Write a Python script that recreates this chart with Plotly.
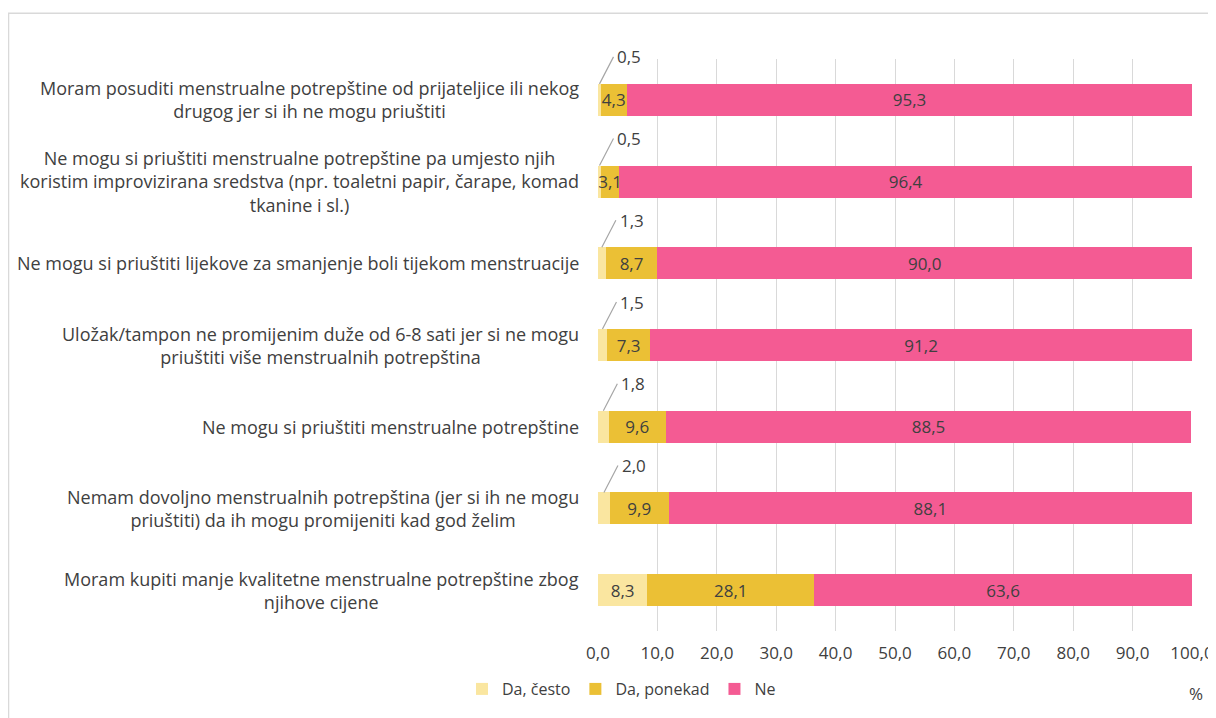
import plotly.graph_objects as go

# data
categories = [
    "Moram posuditi menstrualne potrepštine od prijateljice ili nekog<br>drugog jer si ih ne mogu priuštiti",
    "Ne mogu si priuštiti menstrualne potrepštine pa umjesto njih<br>koristim improvizirana sredstva (npr. toaletni papir, čarape, komad<br>tkanine i sl.)",
    "Ne mogu si priuštiti lijekove za smanjenje boli tijekom menstruacije",
    "Uložak/tampon ne promijenim duže od 6-8 sati jer si ne mogu<br>priuštiti više menstrualnih potrepština",
    "Ne mogu si priuštiti menstrualne potrepštine",
    "Nemam dovoljno menstrualnih potrepština (jer si ih ne mogu<br>priuštiti) da ih mogu promijeniti kad god želim",
    "Moram kupiti manje kvalitetne menstrualne potrepštine zbog<br>njihove cijene",
]
da_cesto = [0.5, 0.5, 1.3, 1.5, 1.8, 2.0, 8.3]
da_ponekad = [4.3, 3.1, 8.7, 7.3, 9.6, 9.9, 28.1]
ne = [95.3, 96.4, 90.0, 91.2, 88.5, 88.1, 63.6]
x_ticks = [0, 10, 20, 30, 40, 50, 60, 70, 80, 90, 100]

series = [
    ("Da, često", da_cesto, "#FAE6A0"),
    ("Da, ponekad", da_ponekad, "#EBC035"),
    ("Ne", ne, "#F45B93"),
]

FONT = "Open Sans"
TXT = "#404040"
FS = 17

fig = go.Figure()
for name, vals, col in series:
    # small values get a callout instead of an inside label
    labels = [("" if v < 3 else f"{v:.1f}".replace(".", ",")) for v in vals]
    fig.add_trace(go.Bar(
        y=categories,
        x=vals,
        name=name,
        orientation="h",
        marker_color=col,
        marker_line_width=0,
        text=labels,
        textposition="inside",
        insidetextanchor="middle",
        textangle=0,
        constraintext="none",
        textfont=dict(family=FONT, size=FS, color=TXT),
        width=0.39,
    ))

annotations = []
# callouts for tiny "Da, često" values
for cat, v in zip(categories, da_cesto):
    if v < 3:
        annotations.append(dict(
            x=v / 2, y=cat, xref="x", yref="y",
            text=f"{v:.1f}".replace(".", ","),
            showarrow=True, arrowhead=0, arrowwidth=1.2, arrowcolor="#A6A6A6",
            ax=14, ay=-27, yshift=16, xanchor="left", borderpad=3,
            font=dict(family=FONT, size=FS, color=TXT),
        ))

# category labels, centre aligned like the original
for cat in categories:
    annotations.append(dict(
        x=-0.028, y=cat, xref="paper", yref="y",
        text=cat, showarrow=False, xanchor="right", align="center",
        font=dict(family=FONT, size=18, color=TXT),
    ))

annotations.append(dict(
    x=1.007, y=-0.1092, xref="paper", yref="paper", text="%",
    showarrow=False, xanchor="center", yanchor="middle",
    font=dict(family=FONT, size=FS, color=TXT),
))

fig.update_layout(
    width=1208, height=710,
    barmode="stack",
    separators=",.",
    margin=dict(l=590, r=24, t=51, b=73),
    plot_bgcolor="white",
    paper_bgcolor="white",
    font=dict(family=FONT, size=FS, color=TXT),
    annotations=annotations,
    legend=dict(
        orientation="h", x=-0.229, y=-0.0717, xanchor="left", yanchor="top",
        font=dict(family=FONT, size=16, color=TXT),
        itemwidth=30, traceorder="normal",
    ),
    shapes=[dict(
        type="rect", xref="paper", yref="paper",
        x0=-0.9924, x1=1.2, y0=-0.3, y1=1.0802,
        line=dict(color="#D9D9D9", width=1.5),
    )],
)
fig.update_xaxes(
    range=[0, 100], tickvals=x_ticks, tickformat=".1f",
    showgrid=True, gridcolor="#D9D9D9", gridwidth=1,
    zeroline=False, ticks="", automargin=False,
    ticklabelstandoff=10,
    tickfont=dict(size=FS),
)
fig.update_yaxes(autorange="reversed", showticklabels=False, showgrid=False,
                 automargin=False)

fig.write_html("out.html")
